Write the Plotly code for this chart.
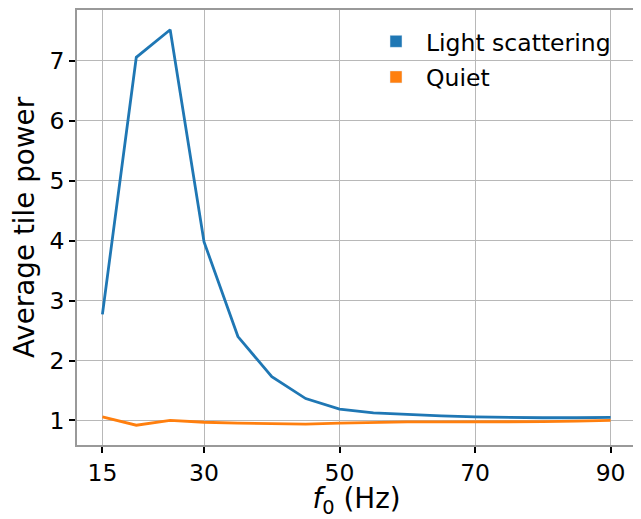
import plotly.graph_objects as go

# ---- data ----
freq = [15, 20, 25, 30, 35, 40, 45, 50, 55, 60, 65, 70, 75, 80, 85, 90]
light_scattering = [2.77, 7.06, 7.52, 3.98, 2.40, 1.73, 1.365, 1.19, 1.125, 1.095,
                    1.075, 1.06, 1.05, 1.045, 1.045, 1.05]
quiet = [1.06, 0.92, 1.00, 0.97, 0.955, 0.945, 0.94, 0.955, 0.97, 0.975,
         0.975, 0.975, 0.975, 0.98, 0.99, 1.00]
series_names = ["Light scattering", "Quiet"]
series_values = [light_scattering, quiet]
colors = ["#1f77b4", "#ff7f0e"]
x_ticks = [15, 30, 50, 70, 90]
y_ticks = [1, 2, 3, 4, 5, 6, 7]

FONT = "DejaVu Sans"

fig = go.Figure()
for name, vals, col in zip(series_names, series_values, colors):
    fig.add_trace(go.Scatter(x=freq, y=vals, mode="lines", name=name,
                             line=dict(color=col, width=2.8),
                             showlegend=False, hoverinfo="x+y"))
# legend entries drawn as filled patches (as in the reference)
for name, col in zip(series_names, colors):
    fig.add_trace(go.Bar(x=[None], y=[None], name=name, marker_color=col,
                         legendgroup=name, showlegend=True))

axis_common = dict(
    showline=True, mirror=True, linecolor="#999999", linewidth=1.5,
    ticks="outside", ticklen=6, tickwidth=1.5, tickcolor="#000000",
    showgrid=True, gridcolor="#b8b8b8", gridwidth=1,
    zeroline=False, automargin=False,
    tickfont=dict(family=FONT, size=23.5, color="#000000"),
)

# the page body has an 8px default margin, so the figure is offset by (8, 8)
fig.update_layout(
    width=633, height=511,
    margin=dict(l=69, r=5, t=2, b=73.5),
    paper_bgcolor="white", plot_bgcolor="white",
    font=dict(family=FONT, color="#000000"),
    xaxis=dict(range=[11.25, 93.75], tickvals=x_ticks,
               ticktext=[str(t) for t in x_ticks],
               title=dict(text="<i>f</i><sub>0</sub> (Hz)",
                          font=dict(family=FONT, size=27.8), standoff=16),
               **axis_common),
    yaxis=dict(range=[0.59, 7.85], tickvals=y_ticks,
               ticktext=[str(t) for t in y_ticks],
               title=dict(text="Average tile power",
                          font=dict(family=FONT, size=27.8), standoff=11),
               **axis_common),
    legend=dict(x=0.517, y=0.978, xanchor="left", yanchor="top",
                bgcolor="rgba(255,255,255,0)", borderwidth=0,
                itemwidth=50, tracegroupgap=2,
                font=dict(family=FONT, size=23.5, color="#000000")),
    showlegend=True,
)

fig.write_html("out.html")
